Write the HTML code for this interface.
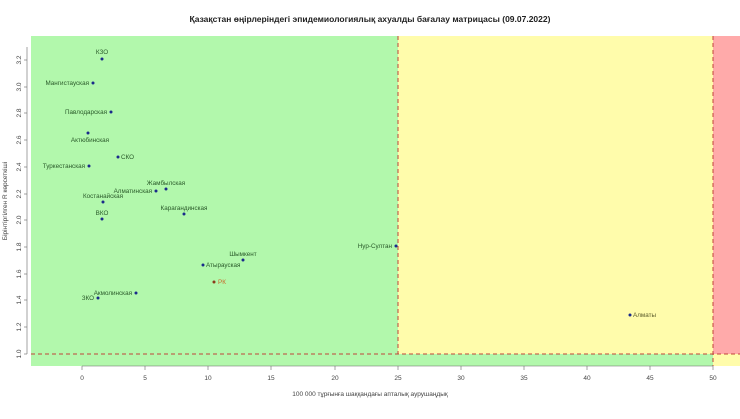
<!DOCTYPE html>
<html><head><meta charset="utf-8"><style>
body{margin:0;background:#fff;}
svg text{font-family:"Liberation Sans",sans-serif;}
</style></head><body>
<svg width="740" height="414" xmlns="http://www.w3.org/2000/svg">
<text x="370" y="22" text-anchor="middle" font-size="8.5" font-weight="bold" fill="#222">Қазақстан өңірлеріндегі эпидемиологиялық ахуалды бағалау матрицасы  (09.07.2022)</text>
<!-- regions -->
<rect x="31" y="36" width="709" height="330" fill="#b2f8ac"/>
<rect x="398" y="36" width="315" height="318" fill="#fffcab"/>
<rect x="713" y="36" width="27" height="318" fill="#ffaaaa"/>
<rect x="713" y="354" width="27" height="12" fill="#fffcab"/>
<line x1="31" y1="354" x2="740" y2="354" stroke="#c0443a" stroke-width="1" stroke-dasharray="4,3"/>
<line x1="398" y1="36" x2="398" y2="354" stroke="#c0443a" stroke-width="1" stroke-dasharray="4,3"/>
<line x1="713" y1="36" x2="713" y2="366" stroke="#c0443a" stroke-width="1" stroke-dasharray="4,3"/>
<!-- y axis -->
<g stroke="#666" stroke-width="0.6">
<line x1="27" y1="47" x2="27" y2="354"/>
<line x1="24" y1="60" x2="27" y2="60"/><line x1="24" y1="87" x2="27" y2="87"/><line x1="24" y1="113" x2="27" y2="113"/><line x1="24" y1="140" x2="27" y2="140"/><line x1="24" y1="167" x2="27" y2="167"/><line x1="24" y1="194" x2="27" y2="194"/><line x1="24" y1="220" x2="27" y2="220"/><line x1="24" y1="247" x2="27" y2="247"/><line x1="24" y1="274" x2="27" y2="274"/><line x1="24" y1="300" x2="27" y2="300"/><line x1="24" y1="327" x2="27" y2="327"/><line x1="24" y1="354" x2="27" y2="354"/>
</g>
<g font-size="6.5" fill="#444" text-anchor="middle">
<text transform="translate(21,60) rotate(-90)">3.2</text>
<text transform="translate(21,87) rotate(-90)">3.0</text>
<text transform="translate(21,113) rotate(-90)">2.8</text>
<text transform="translate(21,140) rotate(-90)">2.6</text>
<text transform="translate(21,167) rotate(-90)">2.4</text>
<text transform="translate(21,194) rotate(-90)">2.2</text>
<text transform="translate(21,220) rotate(-90)">2.0</text>
<text transform="translate(21,247) rotate(-90)">1.8</text>
<text transform="translate(21,274) rotate(-90)">1.6</text>
<text transform="translate(21,300) rotate(-90)">1.4</text>
<text transform="translate(21,327) rotate(-90)">1.2</text>
<text transform="translate(21,354) rotate(-90)">1.0</text>
<text transform="translate(7,201) rotate(-90)" font-size="6.5">Бірінтіргілген R көрсеткіші</text>
</g>
<!-- x axis -->
<g stroke="#666" stroke-width="0.6">
<line x1="82" y1="366" x2="713" y2="366"/>
<line x1="82" y1="366" x2="82" y2="370"/><line x1="145" y1="366" x2="145" y2="370"/><line x1="208" y1="366" x2="208" y2="370"/><line x1="271" y1="366" x2="271" y2="370"/><line x1="335" y1="366" x2="335" y2="370"/><line x1="398" y1="366" x2="398" y2="370"/><line x1="461" y1="366" x2="461" y2="370"/><line x1="524" y1="366" x2="524" y2="370"/><line x1="587" y1="366" x2="587" y2="370"/><line x1="650" y1="366" x2="650" y2="370"/><line x1="713" y1="366" x2="713" y2="370"/>
</g>
<g font-size="6.5" fill="#444" text-anchor="middle">
<text x="82" y="380">0</text><text x="145" y="380">5</text><text x="208" y="380">10</text><text x="271" y="380">15</text><text x="335" y="380">20</text><text x="398" y="380">25</text><text x="461" y="380">30</text><text x="524" y="380">35</text><text x="587" y="380">40</text><text x="650" y="380">45</text><text x="713" y="380">50</text>
<text x="370" y="396">100 000 тұрғынға шаққандағы апталық аурушаңдық</text>
</g>
<!-- points -->
<g fill="#1a2a8a">
<circle cx="102" cy="59" r="1.5"/><circle cx="93" cy="83" r="1.5"/><circle cx="111" cy="112" r="1.5"/><circle cx="88" cy="133" r="1.5"/><circle cx="118" cy="157" r="1.5"/><circle cx="89" cy="166" r="1.5"/><circle cx="166" cy="189" r="1.5"/><circle cx="156" cy="191" r="1.5"/><circle cx="103" cy="202" r="1.5"/><circle cx="184" cy="214" r="1.5"/><circle cx="102" cy="219" r="1.5"/><circle cx="396" cy="246" r="1.5"/><circle cx="243" cy="260" r="1.5"/><circle cx="203" cy="265" r="1.5"/><circle cx="136" cy="293" r="1.5"/><circle cx="98" cy="298" r="1.5"/><circle cx="630" cy="315" r="1.5"/>
</g>
<circle cx="214" cy="282" r="1.5" fill="#8a3a1a"/>
<g font-size="6.3" fill="#2a5a2a">
<text x="102" y="54" text-anchor="middle">КЗО</text>
<text x="89" y="85" text-anchor="end">Мангистауская</text>
<text x="107" y="114" text-anchor="end">Павлодарская</text>
<text x="90" y="142" text-anchor="middle">Актюбинская</text>
<text x="121" y="159">СКО</text>
<text x="85" y="168" text-anchor="end">Туркестанская</text>
<text x="166" y="185" text-anchor="middle">Жамбылская</text>
<text x="152" y="193" text-anchor="end">Алматинская</text>
<text x="103" y="198" text-anchor="middle">Костанайская</text>
<text x="184" y="210" text-anchor="middle">Карагандинская</text>
<text x="102" y="215" text-anchor="middle">ВКО</text>
<text x="392" y="248" text-anchor="end">Нур-Султан</text>
<text x="243" y="256" text-anchor="middle">Шымкент</text>
<text x="206" y="267">Атырауская</text>
<text x="132" y="295" text-anchor="end">Акмолинская</text>
<text x="94" y="300" text-anchor="end">ЗКО</text>
<text x="633" y="317" fill="#5a5a2a">Алматы</text>
<text x="218" y="284" fill="#c86a2a">РК</text>
</g>
</svg>
</body></html>
